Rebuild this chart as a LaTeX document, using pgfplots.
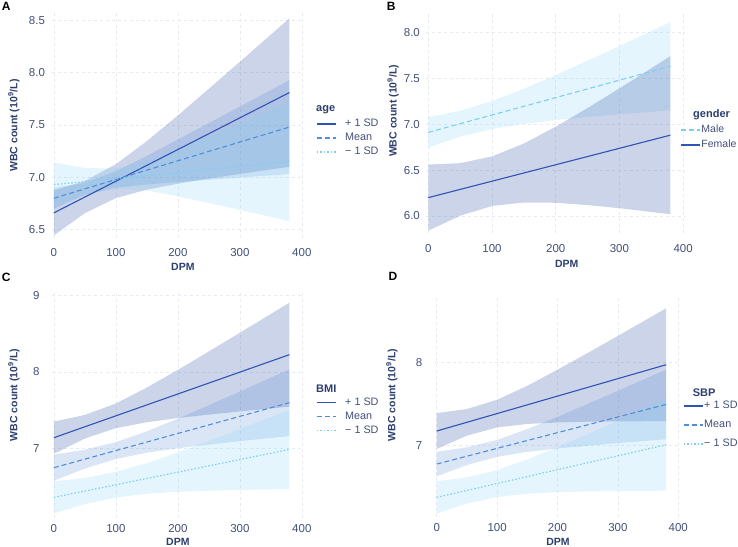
\documentclass[border=0pt]{standalone}
\usepackage{fontspec}
\setmainfont{Liberation Sans}
\usepackage{pgfplots}
\pgfplotsset{compat=1.18}

\definecolor{dk}{RGB}{47,84,181}
\definecolor{md}{RGB}{79,143,216}
\definecolor{lt}{RGB}{124,207,240}
\definecolor{bdk}{RGB}{59,88,170}
\definecolor{bmd}{RGB}{70,130,210}
\definecolor{blt}{RGB}{130,210,245}
\definecolor{navy}{RGB}{44,62,110}
\definecolor{tickc}{RGB}{66,80,122}
\definecolor{gridc}{RGB}{230,234,241}

\tikzset{
  ttl/.style={anchor=west, inner sep=0pt, font=\bfseries\fontsize{11bp}{13bp}\selectfont, text=navy},
  letter/.style={anchor=north west, inner sep=0pt, font=\bfseries\fontsize{12bp}{14bp}\selectfont},
}

\pgfplotsset{
  panel/.style={
    scale only axis,
    axis line style={draw=none},
    tick style={draw=none},
    grid=major,
    major grid style={gridc, dash pattern=on 3bp off 3bp, line width=0.6bp},
    xmin=-3, xmax=403,
    xtick={0,100,200,300,400},
    ticklabel style={font=\fontsize{11.5bp}{13bp}\selectfont, text=tickc},
    /pgf/number format/assume math mode=true,
    label style={font=\bfseries\fontsize{10.5bp}{12bp}\selectfont, text=navy},
    xlabel={DPM},
    ylabel={WBC count (10\textsuperscript{9}/L)},
    clip=false,
    legend style={draw=none, fill=none, inner sep=0pt, outer sep=0pt,
      font=\fontsize{10.8bp}{13bp}\selectfont, text=tickc, anchor=north west,
      nodes={inner sep=0pt, text height=8bp, text depth=2bp}},
    legend cell align=left,
    legend image code/.code={\draw[##1] (0bp,0bp) -- (19bp,0bp);},
  },
  b1/.style={draw=none, fill=bdk, fill opacity=0.26, forget plot},
  b2/.style={draw=none, fill=bmd, fill opacity=0.2, forget plot},
  b3/.style={draw=none, fill=blt, fill opacity=0.22, forget plot},
  l1/.style={dk, line width=1.1bp, no marks},
  l2/.style={md, line width=1.1bp, no marks, dash pattern=on 5bp off 3bp},
  l3/.style={lt, line width=1.2bp, no marks, dash pattern=on 1.5bp off 2bp},
  dec1/.style={yticklabel style={/pgf/number format/fixed, /pgf/number format/fixed zerofill, /pgf/number format/precision=1}},
}

\begin{document}
\begin{tikzpicture}
\useasboundingbox (0,0) rectangle (738bp,547bp);

% ---------------- A: age
\begin{axis}[panel, dec1, at={(52bp,309bp)}, anchor=south west,
  width=251.7bp, height=225bp, ymin=6.42, ymax=8.57,
  ytick={6.5,7.0,7.5,8.0,8.5},
  xticklabel style={yshift=-6.5bp}, yticklabel style={xshift=-3.5bp},
  xlabel style={at={(axis description cs:0.52,-0.129)}, anchor=center},
  ylabel style={at={(axis description cs:-0.151,0.5)}, anchor=center},
  legend style={at={(axis description cs:1.049,0.529)}, row sep=4bp, column sep=9bp}]
\addplot[b1] coordinates {(0,6.875)(50,6.965)(100,7.125)(150,7.346)(200,7.591)(250,7.846)(300,8.104)(350,8.363)(380,8.52)
  (380,7.10)(350,7.075)(300,7.032)(250,6.988)(200,6.939)(150,6.882)(100,6.801)(50,6.657)(0,6.445)} -- cycle;
\addplot[b2] coordinates {(0,6.90)(50,6.946)(100,7.057)(150,7.205)(200,7.361)(250,7.518)(300,7.676)(350,7.834)(380,7.93)
  (380,7.03)(350,7.018)(300,6.998)(250,6.976)(200,6.955)(150,6.931)(100,6.901)(50,6.833)(0,6.70)} -- cycle;
\addplot[b3] coordinates {(0,7.14)(50,7.089)(100,7.083)(150,7.161)(200,7.274)(250,7.395)(300,7.519)(350,7.645)(380,7.72)
  (380,6.58)(350,6.621)(300,6.689)(250,6.755)(200,6.818)(150,6.873)(100,6.893)(50,6.829)(0,6.72)} -- cycle;
\addplot[l1] coordinates {(0,6.66)(380,7.81)};
\addplot[l2] coordinates {(0,6.80)(380,7.48)};
\addplot[l3] coordinates {(0,6.93)(380,7.15)};
\legend{+ 1 SD, Mean, − 1 SD}
\node[ttl] at (axis description cs:1.049,0.569) {age};
\end{axis}

% ---------------- B: gender
\begin{axis}[panel, dec1, at={(426.4bp,314bp)}, anchor=south west,
  width=258.6bp, height=220bp, ymin=5.815, ymax=8.21,
  ytick={6.0,6.5,7.0,7.5,8.0},
  xticklabel style={yshift=-8bp}, yticklabel style={xshift=-3bp},
  xlabel style={at={(axis description cs:0.5425,-0.141)}, anchor=center},
  ylabel style={at={(axis description cs:-0.129,0.555)}, anchor=center},
  legend style={at={(axis description cs:0.982,0.491)}, row sep=5bp, column sep=1bp,
    font=\fontsize{10.5bp}{13bp}\selectfont}]
\addplot[b3] coordinates {(0,7.075)(50,7.146)(100,7.251)(150,7.385)(200,7.534)(250,7.691)(300,7.850)(350,8.012)(380,8.11)
  (380,7.15)(350,7.134)(300,7.106)(250,7.077)(200,7.044)(150,7.003)(100,6.947)(50,6.864)(0,6.745)} -- cycle;
\addplot[b1] coordinates {(0,6.56)(50,6.575)(100,6.649)(150,6.789)(200,6.972)(250,7.175)(300,7.389)(350,7.608)(380,7.741)
  (380,6.019)(350,6.044)(300,6.085)(250,6.119)(200,6.144)(150,6.147)(100,6.109)(50,6.003)(0,5.84)} -- cycle;
\addplot[lt, line width=1.1bp, no marks, dash pattern=on 5bp off 3bp] coordinates {(0,6.91)(380,7.63)};
\addplot[l1] coordinates {(0,6.20)(380,6.88)};
\legend{Male, Female}
\node[ttl] at (axis description cs:1.031,0.536) {gender};
\end{axis}

% ---------------- C: BMI
\begin{axis}[panel, at={(52bp,29bp)}, anchor=south west,
  width=251.7bp, height=228bp, ymin=6.096, ymax=9.069,
  ytick={7,8,9},
  xticklabel style={yshift=-3bp}, yticklabel style={xshift=-9bp},
  xlabel style={at={(axis description cs:0.50,-0.104)}, anchor=center},
  ylabel style={at={(axis description cs:-0.151,0.539)}, anchor=center},
  legend style={at={(axis description cs:1.049,0.528)}, row sep=4bp, column sep=9bp}]
\addplot[b1] coordinates {(0,7.353)(50,7.44)(100,7.589)(150,7.797)(200,8.027)(250,8.268)(300,8.511)(350,8.757)(380,8.904)
  (380,7.548)(350,7.525)(300,7.485)(250,7.444)(200,7.399)(150,7.345)(100,7.267)(50,7.132)(0,6.933)} -- cycle;
\addplot[b2] coordinates {(0,6.922)(50,6.987)(100,7.085)(150,7.226)(200,7.391)(250,7.567)(300,7.746)(350,7.926)(380,8.035)
  (380,7.165)(350,7.14)(300,7.098)(250,7.053)(200,7.005)(150,6.948)(100,6.865)(50,6.741)(0,6.582)} -- cycle;
\addplot[b3] coordinates {(0,6.575)(50,6.618)(100,6.697)(150,6.812)(200,6.95)(250,7.10)(300,7.256)(350,7.414)(380,7.51)
  (380,6.47)(350,6.468)(300,6.462)(250,6.452)(200,6.438)(150,6.412)(100,6.363)(50,6.276)(0,6.155)} -- cycle;
\addplot[l1] coordinates {(0,7.143)(380,8.226)};
\addplot[l2] coordinates {(0,6.752)(380,7.60)};
\addplot[l3] coordinates {(0,6.365)(380,6.99)};
\legend{+ 1 SD, Mean, − 1 SD}
\node[ttl] at (axis description cs:1.049,0.569) {BMI};
\end{axis}

% ---------------- D: SBP
\begin{axis}[panel, at={(434.9bp,30.3bp)}, anchor=south west,
  width=245.2bp, height=220bp, ymin=6.145, ymax=8.795,
  ytick={7,8},
  xticklabel style={yshift=-3bp}, yticklabel style={xshift=-9bp},
  xlabel style={at={(axis description cs:0.502,-0.114)}, anchor=center},
  ylabel style={at={(axis description cs:-0.175,0.553)}, anchor=center},
  legend style={at={(axis description cs:1.012,0.526)}, row sep=9bp, column sep=1bp}]
\addplot[b1] coordinates {(0,7.392)(50,7.442)(100,7.554)(150,7.722)(200,7.916)(250,8.117)(300,8.323)(350,8.531)(380,8.656)
  (380,7.296)(350,7.295)(300,7.293)(250,7.289)(200,7.28)(150,7.262)(100,7.22)(50,7.122)(0,6.962)} -- cycle;
\addplot[b2] coordinates {(0,6.926)(50,6.981)(100,7.07)(150,7.20)(200,7.348)(250,7.504)(300,7.662)(350,7.822)(380,7.918)
  (380,7.078)(350,7.06)(300,7.032)(250,7.00)(200,6.966)(150,6.926)(100,6.866)(50,6.767)(0,6.632)} -- cycle;
\addplot[b3] coordinates {(0,6.573)(50,6.618)(100,6.707)(150,6.834)(200,6.983)(250,7.14)(300,7.302)(350,7.467)(380,7.566)
  (380,6.458)(350,6.457)(300,6.454)(250,6.45)(200,6.441)(150,6.422)(100,6.383)(50,6.304)(0,6.183)} -- cycle;
\addplot[l1] coordinates {(0,7.177)(380,7.976)};
\addplot[l2] coordinates {(0,6.779)(380,7.498)};
\addplot[l3] coordinates {(0,6.378)(380,7.012)};
\legend{+ 1 SD, Mean, − 1 SD}
\node[ttl] at (axis description cs:1.051,0.5636) {SBP};
\end{axis}

% panel letters
\node[letter] at (1.7bp,545.3bp) {A};
\node[letter] at (386.7bp,545.3bp) {B};
\node[letter] at (1.7bp,273.7bp) {C};
\node[letter] at (388.3bp,275.3bp) {D};
\end{tikzpicture}
\end{document}
